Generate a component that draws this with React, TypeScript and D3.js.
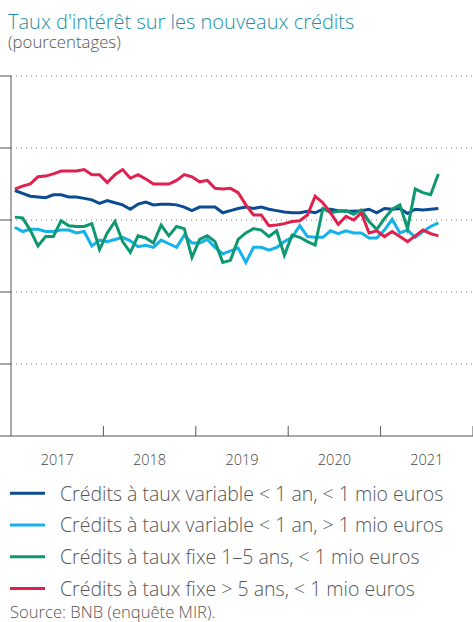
import React from "react";
import * as d3 from "d3";

const years = ["2017", "2018", "2019", "2020", "2021"];

const seriesNames = [
  "Crédits à taux variable < 1 an, < 1 mio euros",
  "Crédits à taux variable < 1 an, > 1 mio euros",
  "Crédits à taux fixe 1–5 ans, < 1 mio euros",
  "Crédits à taux fixe > 5 ans, < 1 mio euros",
];

const seriesColors = ["#0a4b93", "#14b2ea", "#0e9871", "#e0204f"];

// monthly, Jan 2017 – Aug 2021
const variableSmall = [
  3.41, 3.37, 3.33, 3.32, 3.31, 3.35, 3.35, 3.32, 3.32, 3.30, 3.28, 3.23,
  3.27, 3.24, 3.21, 3.15, 3.22, 3.25, 3.21, 3.22, 3.22, 3.21, 3.18, 3.13,
  3.18, 3.18, 3.18, 3.10, 3.13, 3.16, 3.18, 3.16, 3.18, 3.15, 3.13, 3.11,
  3.10, 3.10, 3.12, 3.10, 3.15, 3.15, 3.13, 3.12, 3.12, 3.13, 3.15, 3.10,
  3.16, 3.15, 3.16, 3.09, 3.15, 3.14, 3.15, 3.16,
];

const variableLarge = [
  2.90, 2.84, 2.87, 2.87, 2.84, 2.84, 2.86, 2.86, 2.82, 2.84, 2.64, 2.72,
  2.70, 2.73, 2.76, 2.71, 2.63, 2.65, 2.62, 2.72, 2.67, 2.62, 2.79, 2.68,
  2.68, 2.73, 2.62, 2.53, 2.57, 2.61, 2.41, 2.62, 2.62, 2.58, 2.62, 2.70,
  2.76, 2.92, 2.77, 2.76, 2.76, 2.85, 2.81, 2.85, 2.82, 2.82, 2.75, 2.75,
  2.86, 3.01, 2.82, 2.86, 2.76, 2.84, 2.91, 2.96,
];

const fixedMid = [
  3.04, 3.03, 2.86, 2.64, 2.77, 2.77, 2.99, 2.92, 2.91, 2.91, 2.95, 2.59,
  2.82, 2.98, 2.70, 2.55, 2.78, 2.75, 2.68, 2.93, 2.78, 2.91, 2.88, 2.48,
  2.73, 2.78, 2.70, 2.41, 2.44, 2.73, 2.82, 2.88, 2.86, 2.77, 2.85, 2.51,
  2.79, 2.76, 2.70, 2.65, 3.16, 3.10, 3.12, 3.13, 3.08, 3.14, 2.98, 2.87,
  3.02, 3.15, 3.21, 2.88, 3.43, 3.38, 3.35, 3.64,
];

const fixedLong = [
  3.43, 3.47, 3.50, 3.60, 3.61, 3.64, 3.68, 3.68, 3.68, 3.70, 3.63, 3.63,
  3.52, 3.63, 3.70, 3.58, 3.63, 3.57, 3.50, 3.50, 3.50, 3.55, 3.63, 3.60,
  3.53, 3.55, 3.44, 3.43, 3.44, 3.38, 3.21, 3.07, 3.07, 2.92, 2.93, 2.95,
  2.98, 2.99, 3.07, 3.33, 3.24, 3.10, 2.94, 3.05, 3.00, 3.10, 2.82, 2.85,
  2.77, 2.84, 2.77, 2.70, 2.78, 2.86, 2.81, 2.78,
];

const allSeries = [variableSmall, variableLarge, fixedMid, fixedLong];
const gridValues = [0, 1, 2, 3, 4, 5];

export default function App() {
  const W = 473;
  const H = 622;
  const x = d3.scaleLinear().domain([0, 60]).range([11, 473]);
  const y = d3.scaleLinear().domain([0, 5]).range([436, 76]);
  const line = d3
    .line<number>()
    .x((_, i) => x(i + 0.5))
    .y((d) => y(d));

  const font = "'Open Sans', 'Noto Sans', sans-serif";
  const axisColor = "#555";

  return (
    <svg
      width={W}
      height={H}
      style={{ position: "absolute", left: 0, top: 0, background: "#fff" }}
      fontFamily={font}
      fontWeight={300}
    >
      <text x={8} y={29} fill="#1b8fa6" fontSize={20}>
        Taux d'intérêt sur les nouveaux crédits
      </text>
      <text x={8} y={48} fill="#555" fontSize={16.8}>
        (pourcentages)
      </text>

      {gridValues.slice(1).map((g) => (
        <g key={g}>
          <line
            x1={x(0)}
            x2={W}
            y1={y(g)}
            y2={y(g)}
            stroke="#777"
            strokeWidth={1}
            strokeDasharray="1 4"
          />
          <line x1={0} x2={x(0)} y1={y(g)} y2={y(g)} stroke={axisColor} strokeWidth={1} />
        </g>
      ))}

      <line x1={x(0)} x2={x(0)} y1={y(5)} y2={y(0)} stroke={axisColor} strokeWidth={1} />
      <line x1={0} x2={W} y1={y(0)} y2={y(0)} stroke={axisColor} strokeWidth={1} />
      {d3.range(1, 6).map((k) => (
        <line
          key={k}
          x1={x(k * 12)}
          x2={x(k * 12)}
          y1={y(0) - 10}
          y2={y(0)}
          stroke={axisColor}
          strokeWidth={1}
        />
      ))}
      {years.map((yr, k) => (
        <text
          key={yr}
          x={x(k * 12 + 6)}
          y={465}
          textAnchor="middle"
          fill="#444"
          fontSize={14.5}
        >
          {yr}
        </text>
      ))}

      {allSeries.map((s, i) => (
        <path
          key={i}
          d={line(s) ?? ""}
          fill="none"
          stroke={seriesColors[i]}
          strokeWidth={3}
          strokeLinejoin="miter"
        />
      ))}

      {seriesNames.map((n, i) => (
        <g key={n} transform={`translate(0, ${493.3 + i * 31.7})`}>
          <line x1={10} x2={45} y1={0} y2={0} stroke={seriesColors[i]} strokeWidth={3} />
          <text x={60} y={7.3} fill="#555" fontSize={19.5}>
            {n}
          </text>
        </g>
      ))}

      <text x={10} y={618} fill="#555" fontSize={16.6}>
        Source: BNB (enquête MIR).
      </text>
    </svg>
  );
}
